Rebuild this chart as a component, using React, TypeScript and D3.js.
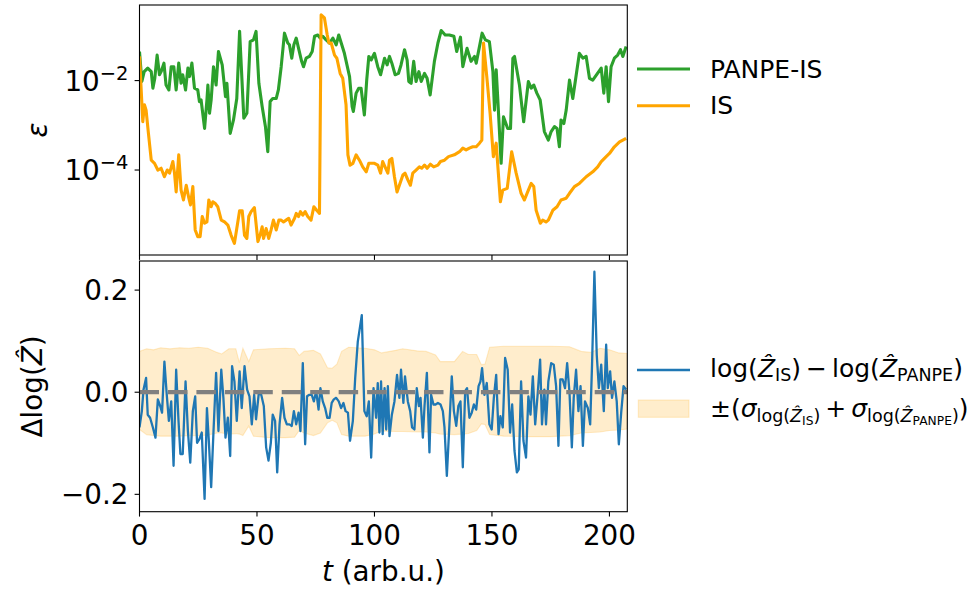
import React from "react";
import * as d3 from "d3";

// ---------- data ----------
const tTicks = [0, 50, 100, 150, 200];
const epsTickExps = [-2, -4];
const dTicks = [-0.2, 0.0, 0.2];
const refLevel = [0];

const greenT = [0,1,2,3.5,5,5.7,6.5,7.5,8.5,9.2,10.4,11.3,12.5,13.5,14.6,15.6,16.7,17.7,18.4,19.6,20.6,21.3,22.3,23.4,24.8,25.5,26.2,27.7,28.7,29.1,29.8,30.5,31.5,32.6,33.6,35.2,36.6,37.2,38.6,40,41.4,42.6,44.4,45.7,47.1,48.5,49.6,50.8,52.2,53.6,54.6,55.6,56.7,58.2,59.1,60.3,61.7,63.1,63.8,64.8,65.7,66.7,67.7,69,69.8,70.9,72.3,73.5,74.5,75.9,76.9,78,79.4,80.9,82.3,83.7,84.8,87.2,89.4,90.5,91,92.2,93.3,94.3,95.7,96.7,97.6,98.6,100,101.4,102.6,104.3,105.4,106.4,107.4,108.8,110.2,111.3,112.8,113.9,114.6,115.6,116.7,117.7,118.9,119.9,121.3,122.4,123.7,125.5,127,128.4,130.1,131.9,133.8,135,136.6,137.6,139.4,141.1,142.6,143.3,145.1,145.8,147.2,148.9,150.4,151.1,151.8,152.5,153.9,154.9,156.7,157.9,158.9,159.6,161.7,163.5,165.5,166.7,167.8,169.1,170.5,172.3,174,175.2,176.6,177.7,178.7,179.4,180.6,181.6,183,184.4,187.2,188.7,190.1,191.5,192.9,196.5,197.6,198.6,199.6,200.7,202.1,203.5,204.7,205.7,207.1];
const greenLog10Eps = [-1.35,-2.02,-1.80,-1.72,-1.80,-2.17,-1.95,-1.43,-1.87,-1.80,-1.61,-2.10,-2.21,-1.69,-1.69,-2.21,-1.61,-2.06,-1.87,-2.21,-1.72,-1.91,-1.61,-2.17,-2.21,-2.47,-2.43,-3.07,-2.43,-2.10,-2.73,-2.43,-1.69,-2.10,-1.35,-1.65,-2.36,-2.06,-3.18,-2.88,-2.40,-0.90,-2.84,-2.73,-1.13,-1.09,-0.90,-2.06,-2.58,-3.03,-3.59,-2.47,-2.40,-2.40,-2.21,-1.69,-0.94,-1.16,-1.20,-1.50,-1.20,-1.05,-1.28,-1.57,-1.69,-1.50,-1.46,-1.35,-1.01,-0.98,-1.05,-1.01,-1.09,-1.16,-1.05,-1.20,-0.98,-1.39,-1.91,-2.58,-2.69,-2.28,-2.17,-2.17,-2.77,-1.99,-1.46,-1.54,-1.39,-1.69,-1.87,-1.50,-1.65,-1.46,-1.61,-1.87,-1.84,-1.65,-1.31,-1.54,-2.02,-2.06,-1.57,-2.02,-1.80,-2.02,-1.84,-1.95,-2.32,-1.57,-1.16,-0.88,-0.98,-0.98,-1.01,-1.35,-1.03,-1.69,-1.28,-1.57,-1.46,-1.61,-1.13,-0.94,-1.09,-1.13,-1.80,-2.66,-1.76,-2.43,-3.85,-2.81,-3.07,-3.07,-1.50,-1.46,-2.10,-2.92,-2.02,-2.17,-2.10,-2.28,-2.43,-3.14,-3.33,-3.14,-3.03,-3.07,-3.48,-2.88,-2.96,-2.66,-1.99,-2.40,-1.39,-1.50,-1.46,-1.95,-1.99,-1.72,-2.28,-1.69,-2.47,-1.69,-1.50,-1.43,-1.31,-1.46,-1.24];

const orangeT = [0,1.4,2.1,2.8,3.8,5,6.4,7.8,9.2,10.6,11.8,12.8,14.2,14.9,15.6,16.7,17.7,18.7,19.9,21,21.7,22.7,23.7,24.8,25.8,26.7,27.7,28.7,29.5,30.5,31.2,32.3,33.3,34.8,36.2,37.6,39,40.4,41.4,42.6,43.7,44.7,45.7,46.5,47.5,48.9,50.4,51.3,52.2,52.8,53.9,55,56,57,58.2,59.3,60.3,61.3,62.4,63.5,64.5,66,66.7,67.7,68.5,69.5,70.5,71.6,73,74.2,75.4,76.6,77.3,78.7,79.9,80.6,81.6,83,84,85.4,86.5,87.9,88.7,89.6,90.8,92.2,93.6,95,96.5,97.6,100,101.4,102.6,103.5,104.5,105.7,106.4,107.4,108.5,109.6,110.6,112.1,113,114.2,115.3,116.3,117.7,119.1,120.1,121.3,122.4,123.8,125.2,127,128.1,129.8,131.5,134,136.2,137.6,139,140.4,141.8,143.3,144.7,145.7,146.4,147.8,149.2,150.6,151.8,153.6,154.6,156.5,158.4,160.3,162.4,163.8,165.5,166.7,167.8,168.8,170.6,171.6,173,174,175.9,177.7,179.4,181.6,183,185.1,187.2,190.1,192.9,195,196.5,198.6,200,202.1,204.3,207.1];
const orangeLog10Eps = [-1.46,-2.92,-2.54,-2.66,-3.18,-3.78,-3.85,-4.00,-3.96,-4.15,-4.00,-4.07,-3.81,-4.07,-4.49,-3.66,-4.45,-4.67,-4.34,-4.63,-4.78,-4.37,-5.34,-5.49,-5.49,-5.04,-5.19,-5.16,-4.67,-4.82,-4.71,-4.75,-4.82,-5.12,-5.16,-5.23,-5.46,-5.64,-5.31,-4.91,-4.91,-5.46,-5.53,-5.04,-4.93,-4.84,-5.60,-5.46,-5.27,-5.53,-5.31,-5.53,-5.34,-5.12,-5.34,-5.12,-5.12,-5.16,-5.12,-5.08,-5.23,-5.08,-4.97,-5.04,-4.93,-5.01,-4.93,-5.04,-5.12,-4.82,-4.90,-4.97,-0.53,-0.60,-0.98,-1.16,-1.16,-1.43,-1.50,-1.84,-1.95,-2.54,-3.66,-3.89,-3.85,-3.66,-3.78,-3.93,-4.04,-3.85,-3.85,-3.89,-4.07,-3.81,-3.93,-4.07,-3.78,-3.74,-4.15,-4.49,-4.34,-4.11,-4.07,-4.22,-4.34,-4.07,-4.00,-3.93,-3.96,-3.89,-3.96,-3.87,-3.93,-3.89,-3.81,-3.78,-3.70,-3.66,-3.59,-3.51,-3.55,-3.51,-3.48,-3.48,-3.40,-3.33,-1.16,-1.91,-2.73,-3.70,-3.40,-4.71,-4.45,-4.41,-3.59,-4.07,-4.52,-4.67,-4.45,-4.30,-4.37,-4.90,-5.19,-5.12,-5.16,-5.12,-4.90,-4.82,-4.67,-4.63,-4.52,-4.37,-4.30,-4.15,-4.04,-3.93,-3.81,-3.70,-3.63,-3.48,-3.37,-3.29];

const blueT = [0,1,1.7,2.8,3.5,4.5,5.7,6.8,7.8,8.8,9.6,10.6,11.6,12.5,13.5,14.5,15.6,16.6,17.4,18.4,19.6,20.6,21.6,22.7,23.7,24.5,25.5,26.5,27.7,28.7,29.5,30.5,31.5,32.6,33.6,34.8,35.7,36.6,37.6,38.6,39.4,40.4,41.4,42.6,43.5,44.7,45.8,46.8,47.8,48.8,49.6,50.8,51.8,52.9,53.9,54.9,55.9,56.7,57.7,58.6,59.6,60.7,61.7,62.7,63.8,64.8,65.7,66.7,67.7,68.5,69.5,70.5,71.3,72.3,73.3,74.2,75.2,76.2,77,78,79,79.9,80.9,81.8,82.7,83.7,84.8,85.8,86.8,87.7,88.7,89.6,90.8,91.8,92.9,94.6,95.7,96.7,97.6,98.6,99.6,100.7,101.4,102.1,102.8,103.5,104.3,105,105.7,106.4,107.4,108.5,109.6,110.6,111.3,112.3,113,114.2,115.2,116,117,118,118.9,119.6,120.6,121.3,122.3,123.4,124.1,125.1,126,127,128.1,129.1,129.8,130.8,131.9,132.9,133.8,134.8,135.7,136.6,137.6,138.6,139.4,140.4,141.4,142.3,143.3,144.3,145.1,145.8,146.8,147.8,148.9,149.9,150.8,151.8,152.8,153.6,154.6,155.6,156.7,157.7,158.6,159.6,160.6,161.4,162.4,163.4,164.5,165.5,166.4,167.4,168.4,169.5,170.5,171.3,172.3,173,174,175.2,176.3,177.3,178.3,179.1,180.1,181.1,182,183,184,184.8,185.8,186.8,187.7,188.7,189.6,190.8,191.8,192.6,193.6,194.6,195.5,196.5,197.6,198.6,199.3,200.3,201.1,202.1,203.1,204,205,206,207.1];
const blueDelta = [-0.069,-0.037,0.005,0.028,-0.044,-0.050,-0.069,-0.089,-0.014,-0.027,-0.040,0.060,-0.005,-0.056,-0.018,-0.144,0.044,-0.056,-0.121,-0.121,0.021,-0.076,-0.138,-0.037,-0.008,-0.099,-0.092,-0.079,-0.209,-0.031,-0.095,-0.186,-0.076,0.038,-0.076,0.044,-0.011,-0.089,-0.050,-0.125,0.051,0.021,-0.056,0.041,-0.031,0.051,0.005,-0.008,-0.063,-0.005,-0.053,-0.001,-0.005,-0.027,-0.108,-0.134,-0.099,-0.044,-0.056,-0.157,-0.063,-0.011,-0.050,-0.063,-0.063,-0.066,-0.037,-0.063,-0.040,-0.076,0.057,-0.102,-0.008,-0.005,-0.005,-0.018,0.002,-0.034,0.008,-0.018,-0.031,-0.050,-0.050,-0.021,-0.014,-0.011,-0.018,-0.031,-0.021,-0.037,-0.040,-0.095,-0.056,0.028,0.099,0.151,-0.037,-0.047,-0.018,-0.128,0.008,-0.050,0.018,-0.079,0.021,-0.082,0.008,-0.073,0.012,-0.086,-0.044,-0.018,0.034,-0.011,0.044,-0.021,0.031,-0.018,-0.037,-0.069,-0.073,0.008,-0.027,-0.011,-0.089,-0.027,0.038,-0.118,-0.005,-0.024,-0.024,-0.021,-0.024,-0.037,-0.069,-0.164,-0.063,0.031,-0.037,-0.066,-0.027,-0.018,-0.147,0.002,0.008,-0.050,-0.040,-0.024,-0.034,0.012,0.021,0.047,-0.005,0.018,-0.063,-0.073,-0.011,0.034,-0.082,-0.047,-0.069,0.067,0.044,-0.079,-0.024,-0.115,-0.157,-0.151,0.021,-0.095,-0.128,-0.008,-0.044,0.031,-0.063,-0.001,0.064,-0.063,0.005,-0.063,0.021,0.057,0.054,0.012,-0.105,0.025,0.025,0.008,0.057,-0.001,-0.108,-0.011,0.044,-0.037,0.012,-0.105,-0.018,-0.031,-0.063,0.054,0.236,0.073,0.008,0.054,-0.037,0.093,0.008,0.041,-0.011,0.021,-0.018,-0.102,-0.040,0.012,0.005];

const bandT = [0,3,6,9,13,17,21,25,29,33,35,38,41,42.5,44,46.5,48.5,55,62,66,68,70,74,77,80,82,84,86,89,92,96,100,103,109,112,118,122,126,128,134,137.5,140,143.5,145.5,147,149,155,165,175,183,188,192,196,200,204,207.6];
const bandUpper = [0.080,0.085,0.083,0.087,0.085,0.087,0.086,0.088,0.086,0.078,0.075,0.085,0.085,0.058,0.086,0.060,0.083,0.085,0.086,0.085,0.072,0.080,0.082,0.075,0.048,0.047,0.055,0.080,0.088,0.087,0.086,0.083,0.077,0.082,0.085,0.081,0.080,0.073,0.060,0.060,0.080,0.074,0.074,0.054,0.055,0.088,0.090,0.090,0.090,0.089,0.080,0.078,0.086,0.083,0.077,0.076];
const bandLower = [-0.073,-0.083,-0.085,-0.086,-0.086,-0.086,-0.085,-0.085,-0.084,-0.080,-0.080,-0.082,-0.081,-0.082,-0.085,-0.066,-0.086,-0.089,-0.089,-0.088,-0.075,-0.080,-0.085,-0.080,-0.060,-0.055,-0.060,-0.083,-0.086,-0.086,-0.086,-0.082,-0.076,-0.077,-0.077,-0.078,-0.078,-0.080,-0.082,-0.083,-0.082,-0.081,-0.075,-0.062,-0.063,-0.083,-0.086,-0.087,-0.087,-0.085,-0.080,-0.079,-0.078,-0.075,-0.074,-0.072];

// ---------- layout ----------
const W = 974, H = 593;
const L = 139.5, R = 627.3;
const topY0 = 5, topY1 = 255;
const botY0 = 261, botY1 = 511.7;
const FONT = "'DejaVu Sans', sans-serif";
const TICK_FS = 27.8;
const LEG_FS = 25;
const SUB_FS = 17.5;
const SUBSUB_FS = 12.25;
const GREEN = "#2ca02c", ORANGE = "#ffa500", BLUE = "#1f77b4";
const TOP_LW = 3.1, BLUE_LW = 2.3;

export default function App() {
  const x = d3.scaleLinear().domain([0, 207.6]).range([L, R]);
  const yTop = d3.scaleLog().domain([Math.pow(10, -5.9), Math.pow(10, -0.31)]).range([topY1, topY0]);
  const yBot = d3.scaleLinear().domain([-0.234, 0.257]).range([botY1, botY0]);

  const greenData = greenT.map((t, i) => [t, Math.pow(10, greenLog10Eps[i])] as [number, number]);
  const orangeData = orangeT.map((t, i) => [t, Math.pow(10, orangeLog10Eps[i])] as [number, number]);
  const blueData = blueT.map((t, i) => [t, blueDelta[i]] as [number, number]);
  const bandData = bandT.map((t, i) => ({ t, lo: bandLower[i], hi: bandUpper[i] }));

  const topLine = d3.line<[number, number]>().x(d => x(d[0])).y(d => yTop(d[1]));
  const botLine = d3.line<[number, number]>().x(d => x(d[0])).y(d => yBot(d[1]));
  const bandArea = d3.area<{ t: number; lo: number; hi: number }>()
    .x(d => x(d.t)).y0(d => yBot(d.lo)).y1(d => yBot(d.hi));

  const tickLen = 4.9;
  const axisStroke = 1.1;

  return (
    <svg width={W} height={H} viewBox={`0 0 ${W} ${H}`}
      style={{ position: "absolute", left: 0, top: 0, background: "#fff" }}
      fontFamily={FONT}>
      <defs>
        <clipPath id="clipTop"><rect x={L} y={topY0} width={R - L} height={topY1 - topY0} /></clipPath>
        <clipPath id="clipBot"><rect x={L} y={botY0} width={R - L} height={botY1 - botY0} /></clipPath>
      </defs>
      <rect x={0} y={0} width={W} height={H} fill="#fff" />

      {/* ---------- top panel ---------- */}
      <g clipPath="url(#clipTop)">
        <path d={topLine(greenData) || ""} fill="none" stroke={GREEN} strokeWidth={TOP_LW} strokeLinejoin="round" />
        <path d={topLine(orangeData) || ""} fill="none" stroke={ORANGE} strokeWidth={TOP_LW} strokeLinejoin="round" />
      </g>
      <rect x={L} y={topY0} width={R - L} height={topY1 - topY0} fill="none" stroke="#000" strokeWidth={axisStroke} />
      {tTicks.map(t => (
        <line key={"tt" + t} x1={x(t)} x2={x(t)} y1={topY1} y2={topY1 + tickLen} stroke="#000" strokeWidth={axisStroke} />
      ))}
      {epsTickExps.map(e => {
        const yy = yTop(Math.pow(10, e));
        return (
          <g key={"et" + e}>
            <line x1={L - tickLen} x2={L} y1={yy} y2={yy} stroke="#000" strokeWidth={axisStroke} />
            <text x={128.5} y={yy + 10.3} textAnchor="end" fontSize={TICK_FS} fill="#000">
              <tspan>10</tspan>
              <tspan fontSize={19.5} dy={-11}>{"\u2212" + Math.abs(e)}</tspan>
            </text>
          </g>
        );
      })}
      <text transform={`translate(47,${(topY0 + topY1) / 2}) rotate(-90)`} textAnchor="middle"
        fontSize={TICK_FS} fontStyle="italic" fill="#000">ε</text>

      {/* ---------- bottom panel ---------- */}
      <g clipPath="url(#clipBot)">
        <path d={bandArea(bandData) || ""} fill={ORANGE} fillOpacity={0.2} stroke={ORANGE} strokeOpacity={0.2} strokeWidth={1.1} />
        <path d={botLine(blueData) || ""} fill="none" stroke={BLUE} strokeWidth={BLUE_LW} strokeLinejoin="round" />
        {refLevel.map(v => (
          <line key={"ref" + v} x1={x(0)} x2={R} y1={yBot(v)} y2={yBot(v)} stroke="#808080"
            strokeWidth={4.2} strokeDasharray="19.5,8.95" />
        ))}
      </g>
      <rect x={L} y={botY0} width={R - L} height={botY1 - botY0} fill="none" stroke="#000" strokeWidth={axisStroke} />
      {tTicks.map(t => (
        <g key={"bt" + t}>
          <line x1={x(t)} x2={x(t)} y1={botY1} y2={botY1 + tickLen} stroke="#000" strokeWidth={axisStroke} />
          <text x={x(t)} y={545} textAnchor="middle" fontSize={TICK_FS} fill="#000">{String(t)}</text>
        </g>
      ))}
      {dTicks.map(v => (
        <g key={"dt" + v}>
          <line x1={L - tickLen} x2={L} y1={yBot(v)} y2={yBot(v)} stroke="#000" strokeWidth={axisStroke} />
          <text x={128.5} y={yBot(v) + 10.1} textAnchor="end" fontSize={TICK_FS} fill="#000">
            {(v < 0 ? "\u2212" : "") + Math.abs(v).toFixed(1)}
          </text>
        </g>
      ))}
      <text transform={`translate(42,${(botY0 + botY1) / 2}) rotate(-90)`} textAnchor="middle" fontSize={TICK_FS} fill="#000">
        <tspan>Δlog(</tspan><tspan fontStyle="italic">Ẑ</tspan><tspan>)</tspan>
      </text>
      <text x={(L + R) / 2} y={581} textAnchor="middle" fontSize={TICK_FS} fill="#000">
        <tspan fontStyle="italic">t</tspan><tspan> (arb.u.)</tspan>
      </text>

      {/* ---------- legends ---------- */}
      <line x1={637} x2={690} y1={69} y2={69} stroke={GREEN} strokeWidth={TOP_LW} />
      <text x={710} y={77.7} fontSize={LEG_FS} fill="#000">PANPE-IS</text>
      <line x1={637} x2={690} y1={105.7} y2={105.7} stroke={ORANGE} strokeWidth={TOP_LW} />
      <text x={710} y={114} fontSize={LEG_FS} fill="#000">IS</text>

      <line x1={637} x2={690} y1={370} y2={370} stroke={BLUE} strokeWidth={BLUE_LW} />
      <text x={710} y={377} fontSize={LEG_FS} fill="#000">
        <tspan>log(</tspan><tspan fontStyle="italic">Ẑ</tspan>
        <tspan fontSize={SUB_FS} dy={4}>IS</tspan>
        <tspan dy={-4}>){"\u2009\u2212\u2009"}log(</tspan><tspan fontStyle="italic">Ẑ</tspan>
        <tspan fontSize={SUB_FS} dy={4}>PANPE</tspan>
        <tspan dy={-4}>)</tspan>
      </text>
      <rect x={638.3} y={400} width={50.7} height={17.3} fill={ORANGE} fillOpacity={0.2} stroke={ORANGE} strokeOpacity={0.2} strokeWidth={1.1} />
      <text x={710} y={417} fontSize={LEG_FS} fill="#000">
        <tspan>±(</tspan><tspan fontStyle="italic">σ</tspan>
        <tspan fontSize={SUB_FS} dy={5}>log(</tspan><tspan fontSize={SUB_FS} fontStyle="italic">Ẑ</tspan>
        <tspan fontSize={SUBSUB_FS} dy={3}>IS</tspan>
        <tspan fontSize={SUB_FS} dy={-3}>)</tspan>
        <tspan dy={-5}>{"\u2009+\u2009"}</tspan><tspan fontStyle="italic">σ</tspan>
        <tspan fontSize={SUB_FS} dy={5}>log(</tspan><tspan fontSize={SUB_FS} fontStyle="italic">Ẑ</tspan>
        <tspan fontSize={SUBSUB_FS} dy={3}>PANPE</tspan>
        <tspan fontSize={SUB_FS} dy={-3}>)</tspan>
        <tspan dy={-5}>)</tspan>
      </text>
    </svg>
  );
}
